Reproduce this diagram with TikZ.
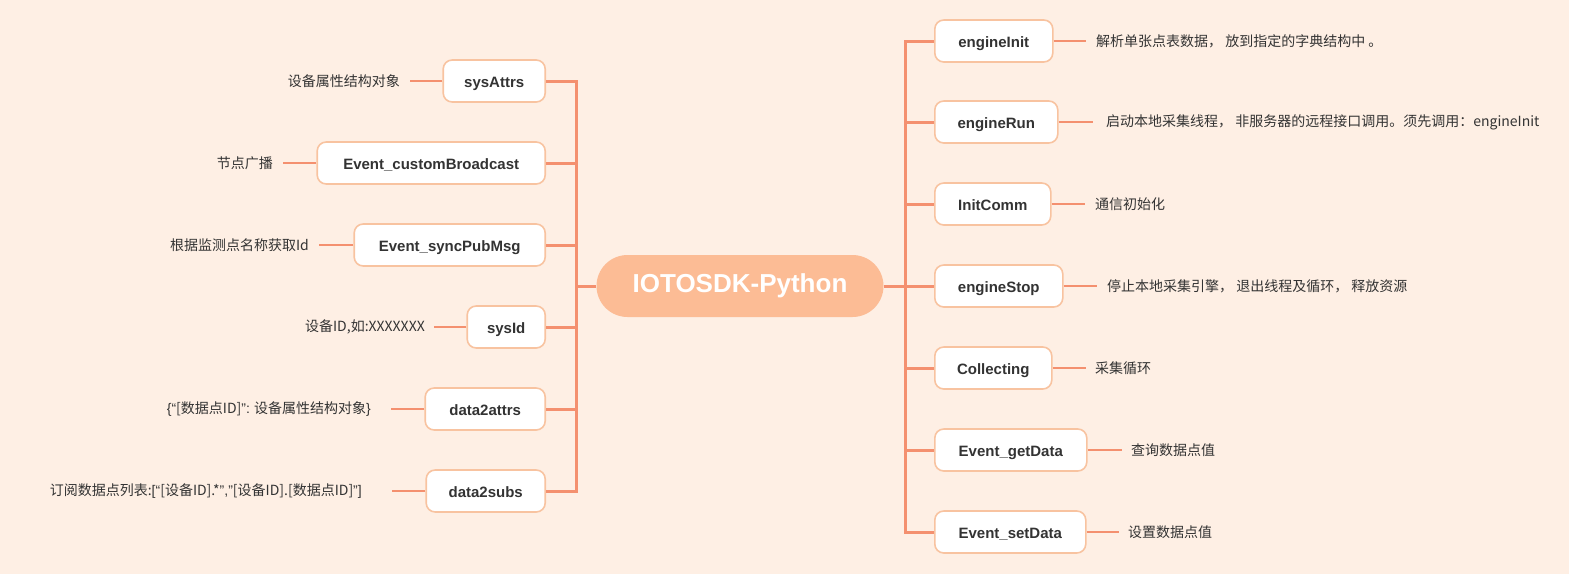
\documentclass[tikz,border=0pt]{standalone}
\usepackage{fontspec}
\usepackage{xcolor}
\usepackage{tikz}
\usetikzlibrary{positioning}
\setmainfont{Liberation Sans}
\newfontfamily\cjk{Noto Sans CJK SC}
\newcommand{\latin}[1]{{\rmfamily #1}}
\definecolor{bgpeach}{HTML}{FEEFE4}
\definecolor{rootfill}{HTML}{FCBC95}
\definecolor{branchline}{HTML}{F4906F}
\definecolor{leafline}{HTML}{F8C3A0}
\definecolor{inkgray}{HTML}{333333}
\tikzset{
	root/.style={fill=rootfill, rounded corners=31pt, minimum width=287pt, minimum height=62pt,
		text=white, font=\fontsize{26pt}{30pt}\selectfont\bfseries},
	leaf/.style={draw=leafline, line width=1.6pt, fill=white, rounded corners=9pt,
		minimum height=42pt, text height=12pt, text depth=0pt, text=inkgray,
		font=\fontsize{15pt}{18pt}\selectfont\bfseries},
	note/.style={inner sep=0pt, text=inkgray, font=\cjk\fontsize{14pt}{16pt}\selectfont},
	trunk/.style={draw=branchline, line width=3pt},
	twig/.style={draw=branchline, line width=2pt}
}

\begin{document}
\begin{tikzpicture}[x=1pt, y=-1pt]
		\fill[bgpeach] (0,0) rectangle (1569,574);
		\useasboundingbox (0,0) rectangle (1569,574);

		\node[root] (root) at (740,286) {IOTOSDK-Python};
		\coordinate (lt) at (576,0);
		\coordinate (rt) at (905,0);

		% left side
		\node[leaf, anchor=east, minimum width=102pt] (sysattrs) at (546,81) {sysAttrs};
		\node[leaf, anchor=east, minimum width=228pt] (broadcast) at (546,163) {Event\_customBroadcast};
		\node[leaf, anchor=east, minimum width=191pt] (syncpub) at (546,245) {Event\_syncPubMsg};
		\node[leaf, anchor=east, minimum width=78pt] (sysid) at (546,327) {sysId};
		\node[leaf, anchor=east, minimum width=120pt] (dataattrs) at (546,409) {data2attrs};
		\node[leaf, anchor=east, minimum width=119pt] (datasubs) at (546,491) {data2subs};

		\coordinate (sysattrs-t) at (410,81);
		\coordinate (broadcast-t) at (283,163);
		\coordinate (syncpub-t) at (319,245);
		\coordinate (sysid-t) at (434,327);
		\coordinate (dataattrs-t) at (391,409);
		\coordinate (datasubs-t) at (392,491);

		\node[note, left=10pt of sysattrs-t] (sysattrs-n) {设备属性结构对象};
		\node[note, left=10pt of broadcast-t] (broadcast-n) {节点广播};
		\node[note, left=10pt of syncpub-t] (syncpub-n) {根据监测点名称获取Id};
		\node[note, left=9pt of sysid-t] (sysid-n) {设备ID,如:XXXXXXX};
		\node[note, left=20pt of dataattrs-t] (dataattrs-n) {\latin{\{“}[数据点ID]\latin{":} 设备属性结构对象\latin{\}}};
		\node[note, left=30pt of datasubs-t] (datasubs-n) {订阅数据点列表:\latin{[“}[设备ID].*\latin{","}[设备ID].[数据点ID]\latin{"]}};

		\draw[trunk] (sysattrs.east) -| (lt |- datasubs.east) -- (datasubs.east);
		\draw[trunk] (broadcast.east) -- (lt |- broadcast.east);
		\draw[trunk] (syncpub.east) -- (lt |- syncpub.east);
		\draw[trunk] (sysid.east) -- (lt |- sysid.east);
		\draw[trunk] (dataattrs.east) -- (lt |- dataattrs.east);
		\draw[trunk] (root.west) -- (lt |- root.west);

		\draw[twig] (sysattrs) -- (sysattrs-t);
		\draw[twig] (broadcast) -- (broadcast-t);
		\draw[twig] (syncpub) -- (syncpub-t);
		\draw[twig] (sysid) -- (sysid-t);
		\draw[twig] (dataattrs) -- (dataattrs-t);
		\draw[twig] (datasubs) -- (datasubs-t);

		% right side
		\node[leaf, anchor=west, minimum width=118pt] (engineinit) at (934,41) {engineInit};
		\node[leaf, anchor=west, minimum width=123pt] (enginerun) at (934,122) {engineRun};
		\node[leaf, anchor=west, minimum width=116pt] (initcomm) at (934,204) {InitComm};
		\node[leaf, anchor=west, minimum width=128pt] (enginestop) at (934,286) {engineStop};
		\node[leaf, anchor=west, minimum width=117pt] (collecting) at (934,368) {Collecting};
		\node[leaf, anchor=west, minimum width=152pt] (getdata) at (934,450) {Event\_getData};
		\node[leaf, anchor=west, minimum width=151pt] (setdata) at (934,532) {Event\_setData};

		\coordinate (engineinit-t) at (1086,41);
		\coordinate (enginerun-t) at (1093,122);
		\coordinate (initcomm-t) at (1085,204);
		\coordinate (enginestop-t) at (1097,286);
		\coordinate (collecting-t) at (1086,368);
		\coordinate (getdata-t) at (1122,450);
		\coordinate (setdata-t) at (1119,532);

		\node[note, right=10pt of engineinit-t] (engineinit-n) {解析单张点表数据， 放到指定的字典结构中 。};
		\node[note, right=13pt of enginerun-t] (enginerun-n) {启动本地采集线程， 非服务器的远程接口调用。须先调用：engineInit};
		\node[note, right=10pt of initcomm-t] (initcomm-n) {通信初始化};
		\node[note, right=10pt of enginestop-t] (enginestop-n) {停止本地采集引擎， 退出线程及循环， 释放资源};
		\node[note, right=9pt of collecting-t] (collecting-n) {采集循环};
		\node[note, right=9pt of getdata-t] (getdata-n) {查询数据点值};
		\node[note, right=9pt of setdata-t] (setdata-n) {设置数据点值};

		\draw[trunk] (engineinit.west) -| (rt |- setdata.west) -- (setdata.west);
		\draw[trunk] (enginerun.west) -- (rt |- enginerun.west);
		\draw[trunk] (initcomm.west) -- (rt |- initcomm.west);
		\draw[trunk] (enginestop.west) -- (rt |- enginestop.west);
		\draw[trunk] (collecting.west) -- (rt |- collecting.west);
		\draw[trunk] (getdata.west) -- (rt |- getdata.west);
		\draw[trunk] (root.east) -- (rt |- root.east);

		\draw[twig] (engineinit) -- (engineinit-t);
		\draw[twig] (enginerun) -- (enginerun-t);
		\draw[twig] (initcomm) -- (initcomm-t);
		\draw[twig] (enginestop) -- (enginestop-t);
		\draw[twig] (collecting) -- (collecting-t);
		\draw[twig] (getdata) -- (getdata-t);
		\draw[twig] (setdata) -- (setdata-t);
	\end{tikzpicture}
\end{document}
